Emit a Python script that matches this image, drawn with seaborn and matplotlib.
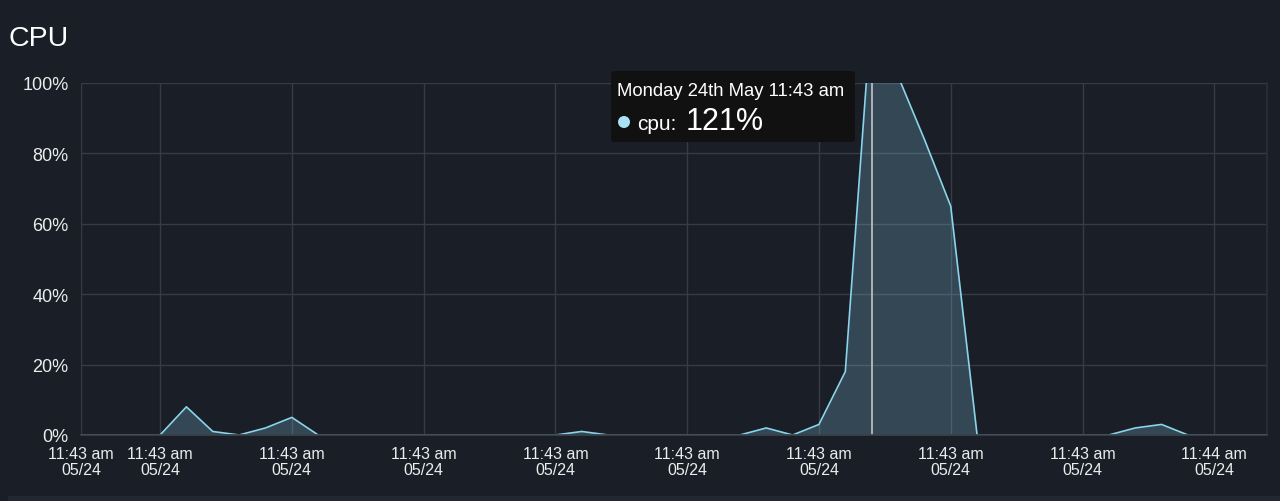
import numpy as np
import pandas as pd
import matplotlib
matplotlib.use("Agg")
import matplotlib.pyplot as plt
import seaborn as sns
from matplotlib.patches import FancyBboxPatch, Circle, Rectangle

# ---- data ----
cpu = [0, 0, 0, 0, 8, 1, 0, 2, 5, 0,
       0, 0, 0, 0, 0, 0, 0, 0, 0, 1,
       0, 0, 0, 0, 0, 0, 2, 0, 3, 18,
       121, 102, 84, 65, 0, 0, 0, 0, 0, 0,
       2, 3, 0, 0, 0, 0]
sample = list(range(len(cpu)))
tick_pos = [0, 3, 8, 13, 18, 23, 28, 33, 38, 43]
tick_times = ["11:43 am"] * 9 + ["11:44 am"]
tick_dates = ["05/24"] * 10
y_ticks = [0, 20, 40, 60, 80, 100]
y_labels = ["0%", "20%", "40%", "60%", "80%", "100%"]
hover_idx = 30
tooltip_title = "Monday 24th May 11:43 am"
tooltip_series = "cpu:"
tooltip_value = "121%"

BG = "#1a1f27"
LINE = "#8ad4ec"
GRID = "#363b44"
TXT = "#ececec"

sns.set_theme(style="dark")
plt.rcParams["font.family"] = ["Liberation Sans", "DejaVu Sans"]

W, H = 1280, 502
fig = plt.figure(figsize=(W / 100, H / 100), dpi=100, facecolor=BG)

def fx(px):
    return px / W

def fy(py):
    return 1 - py / H

ax = fig.add_axes([fx(81), fy(436), fx(1267) - fx(81), fy(84) - fy(436)])
ax.set_facecolor(BG)

df = pd.DataFrame({"sample": sample, "cpu": cpu})
sns.lineplot(data=df, x="sample", y="cpu", ax=ax, color=LINE, linewidth=1.2)
ax.fill_between(df["sample"], df["cpu"], 0, color=LINE, alpha=0.23, linewidth=0)

ax.set_xlim(0, len(cpu) - 1)
ax.set_ylim(0, 100)
ax.set_xlabel("")
ax.set_ylabel("")

ax.set_yticks(y_ticks)
ax.set_yticklabels(y_labels)
ax.set_xticks(tick_pos)
ax.set_xticklabels([f"{t}\n{d}" for t, d in zip(tick_times, tick_dates)], linespacing=1.05)

ax.grid(True, color=GRID, linewidth=1)
ax.tick_params(axis="y", length=6, width=1, color=GRID, pad=3, labelsize=13, labelcolor=TXT)
ax.tick_params(axis="x", length=5, width=1, color=GRID, pad=3, labelsize=11.5, labelcolor=TXT)
for s in ["top", "left"]:
    ax.spines[s].set_visible(False)
ax.spines["bottom"].set_color("#3a4048")
ax.spines["right"].set_color("#2a3038")

# hover line
ax.axvline(hover_idx, color="#b8bcc0", linewidth=1.3)

# title
fig.text(fx(8), fy(39), "CPU", fontsize=20.5, color="white", ha="left", va="center")

# tooltip
tip = FancyBboxPatch((fx(611), fy(143)), fx(855) - fx(611), fy(72) - fy(143),
                     boxstyle="round,pad=0,rounding_size=0.004",
                     transform=fig.transFigure, facecolor="#111111", edgecolor="none", zorder=10)
fig.patches.append(tip)
fig.text(fx(617), fy(92), tooltip_title, fontsize=13.3, color="white", ha="left", va="center", zorder=11)
dot = Circle((624, H - 123), 6, transform=None, facecolor="#a8e2f7", edgecolor="none", zorder=11)
fig.patches.append(dot)
fig.text(fx(637), fy(125), tooltip_series, fontsize=15, color="white", ha="left", va="center", zorder=11)
fig.text(fx(686), fy(122), tooltip_value, fontsize=22, color="white", ha="left", va="center", zorder=11)

# bottom separator band
fig.patches.append(Rectangle((fx(8), 0), 1 - fx(8), fy(497), transform=fig.transFigure,
                             facecolor="#212832", edgecolor="none"))

fig.savefig("out.png", dpi=100, facecolor=BG)
